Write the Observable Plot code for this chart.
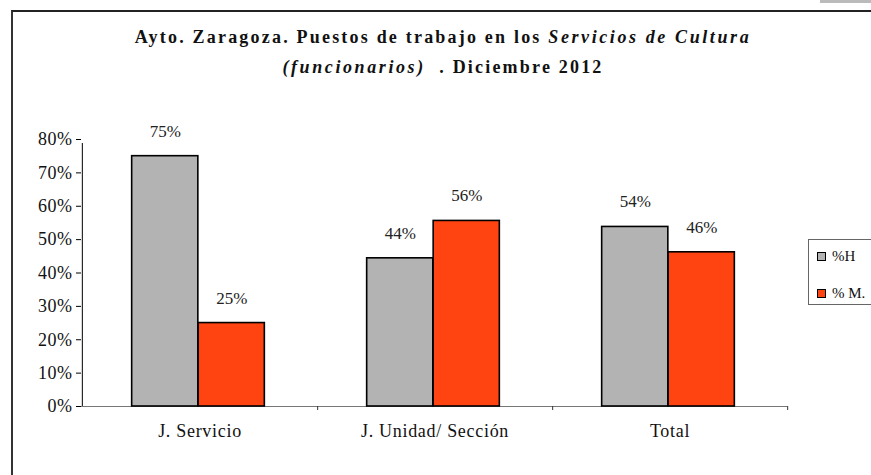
<!DOCTYPE html>
<html><head><meta charset="utf-8">
<script src="https://cdn.jsdelivr.net/npm/d3@7"></script>
<script src="https://cdn.jsdelivr.net/npm/@observablehq/plot@0.6"></script>
<style>
html,body{margin:0;padding:0;background:#fff;}
#wrap{position:relative;width:871px;height:475px;overflow:hidden;font-family:"Liberation Serif","Times New Roman",serif;}
#frame{position:absolute;left:11px;top:10px;width:900px;height:500px;border-top:2px solid #222;border-left:2px solid #333;}
#topbar{position:absolute;left:820px;top:0;width:60px;height:3px;background:#bbb;}
#title{position:absolute;left:0;width:886px;top:22px;text-align:center;font-weight:bold;font-size:18px;line-height:30px;letter-spacing:2.2px;color:#111;}
#title i{letter-spacing:2.6px;}
#legend{position:absolute;left:808px;top:239px;width:80px;height:66px;border:1px solid #666;box-sizing:border-box;font-size:15px;color:#111;}
.sw{position:absolute;left:8px;width:7px;height:7px;border:1.5px solid #000;}
.lt{position:absolute;left:23px;line-height:18px;}
svg{position:absolute;left:0;top:0;}
</style></head>
<body><div id="wrap">
<div id="frame"></div><div id="topbar"></div>
<div id="title">Ayto. Zaragoza. Puestos de trabajo en los <i>Servicios de Cultura</i><br><i>(funcionarios)</i> &nbsp;. Diciembre 2012</div>
<div id="chart"></div>
</div>
<script>
const categories = ["J. Servicio", "J. Unidad/ Sección", "Total"];
const seriesNames = ["%H", "% M."];
const valuesH = [75, 44.4, 53.8];
const valuesM = [25, 55.6, 46.2];
const seriesColors = ["#b3b3b3", "#ff4411"];
const yTicks = [0, 10, 20, 30, 40, 50, 60, 70, 80];

const data = [];
categories.forEach((c, i) => {
  data.push({cat: c, s: seriesNames[0], v: valuesH[i]});
  data.push({cat: c, s: seriesNames[1], v: valuesM[i]});
});
const W = 871, H = 475, mL = 81, mR = 84, mT = 139, mB = 69;
const bw = (W - mL - mR) / categories.length;
const barW = 66.5;
const half = bw / 2;
const shift = 1.5;

const plot = Plot.plot({
  width: W, height: H,
  marginLeft: mL, marginRight: mR, marginTop: mT, marginBottom: mB,
  style: {fontFamily: "'Liberation Serif', serif", fontSize: "18px", background: "transparent", color: "#111", overflow: "visible"},
  x: {domain: categories, padding: 0, label: null},
  y: {domain: [0, 80], label: null},
  color: {domain: seriesNames, range: seriesColors},
  marks: [
    Plot.ruleY([0], {stroke: "#777", strokeWidth: 1}),
    Plot.barY(data.filter(d => d.s === seriesNames[0]), {x: "cat", y: "v", fill: "s", stroke: "#000", strokeWidth: 1.6, insetLeft: half - barW - shift, insetRight: half + shift}),
    Plot.barY(data.filter(d => d.s === seriesNames[1]), {x: "cat", y: "v", fill: "s", stroke: "#000", strokeWidth: 1.6, insetLeft: half - shift, insetRight: half - barW + shift}),
    Plot.text(data.filter(d => d.s === seriesNames[0]), {x: "cat", y: "v", text: d => Math.round(d.v) + "%", dx: -barW / 2 - shift, dy: -25, fill: "#222", fontSize: 17}),
    Plot.text(data.filter(d => d.s === seriesNames[1]), {x: "cat", y: "v", text: d => Math.round(d.v) + "%", dx: barW / 2 - shift, dy: -25, fill: "#222", fontSize: 17}),
    Plot.ruleX([categories[0]], {dx: -half, y1: 0, y2: 80, insetBottom: -4, stroke: "#000", strokeWidth: 1}),
    Plot.ruleX(categories, {dx: half, y1: 0, y2: 0, insetBottom: -4, stroke: "#333", strokeWidth: 1}),
    Plot.axisY({ticks: yTicks, tickFormat: d => d + "%", tickSize: 5, tickPadding: 4, stroke: "#000", fill: "#111", fontSize: 18, label: null}),
    Plot.axisX({tickSize: 0, tickPadding: 18, fill: "#111", fontSize: 18, label: null})
  ]
});
document.getElementById("chart").appendChild(plot);
plot.querySelectorAll("g[aria-label='y-axis tick label'] text").forEach(t => t.style.letterSpacing = "0.5px");
plot.querySelectorAll("g[aria-label='x-axis tick label'] text").forEach(t => t.style.letterSpacing = "0.7px");

const leg = document.createElement("div");
leg.id = "legend";
seriesNames.forEach((s, i) => {
  const sw = document.createElement("div");
  sw.className = "sw";
  sw.style.top = (12 + i * 37) + "px";
  sw.style.background = seriesColors[i];
  const t = document.createElement("div");
  t.className = "lt";
  t.style.top = (7 + i * 37) + "px";
  t.textContent = s;
  leg.appendChild(sw); leg.appendChild(t);
});
document.getElementById("wrap").appendChild(leg);
</script>
</body></html>
